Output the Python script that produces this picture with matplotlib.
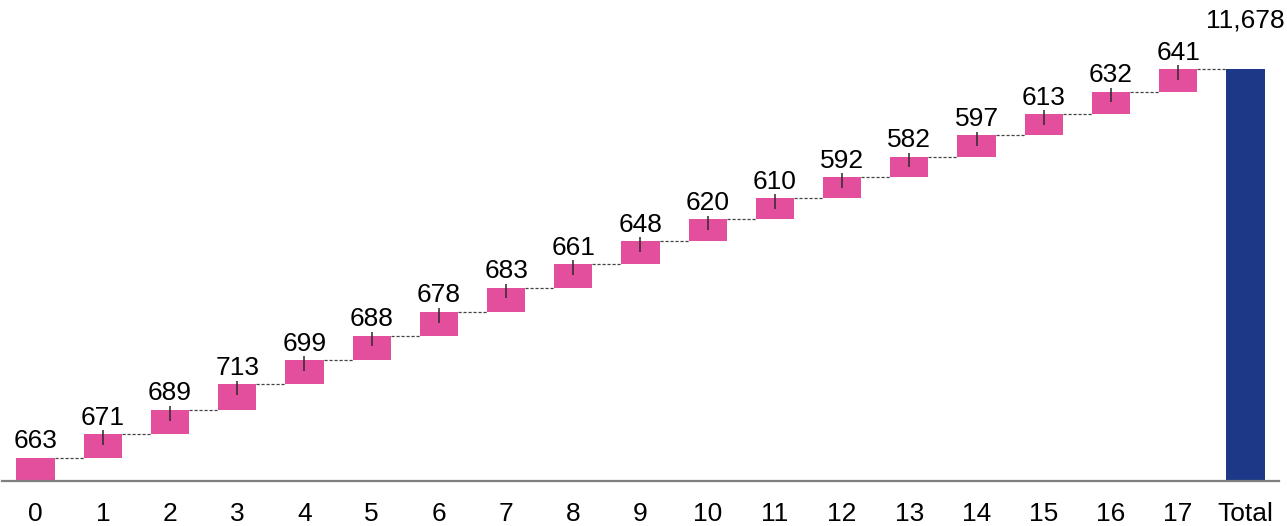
import matplotlib
matplotlib.use("Agg")
from matplotlib import pyplot as plt
import numpy as np

plt.rcParams['font.family'] = ['Liberation Sans', 'DejaVu Sans']

# yearly increments and the running total
categories = [str(i) for i in range(18)] + ["Total"]
increments = [663, 671, 689, 713, 699, 688, 678, 683, 661,
              648, 620, 610, 592, 582, 597, 613, 632, 641]
total = 11678
labels = [str(v) for v in increments] + ["11,678"]

pink = "#E34F9D"
navy = "#1C3886"

fig = plt.figure(figsize=(12.87, 5.26), dpi=100)
ax = fig.add_axes([2 / 1287, 45 / 526, 1277 / 1287, 481 / 526])

x = np.arange(len(categories))
ends = np.cumsum(increments)
starts = ends - np.array(increments)
width = 0.57

ax.bar(x[:-1], increments, bottom=starts, width=width, color=pink, zorder=2)
ax.bar(x[-1], total, width=width, color=navy, zorder=2)

# uncertainty marks near the top of each step (none on the first one)
ax.errorbar(x[1:-1], ends[1:] - 100, yerr=210, fmt='none',
            ecolor="#2a2a2a", elinewidth=1.1, capsize=0, zorder=3)

# dashed connectors between consecutive steps
tops = list(ends)
for i in range(len(categories) - 1):
    ax.plot([x[i] + width / 2, x[i + 1] - width / 2], [tops[i], tops[i]],
            ls=(0, (2.5, 1.5)), lw=0.9, color="#444444", zorder=1)

for i, lab in enumerate(labels):
    if i < len(increments):
        y, off = ends[i], 3
    else:
        y, off = total, 26
    ax.annotate(lab, (x[i], y), xytext=(0, off), textcoords="offset points",
                ha="center", va="bottom", fontsize=19)

ax.set_xlim(-0.5, len(categories) - 0.5)
ax.set_ylim(0, total * 481 / 412)
ax.set_xticks(x)
ax.set_xticklabels(categories, fontsize=19)
ax.tick_params(axis='x', length=0, pad=15)
ax.set_yticks([])
for s in ("top", "right", "left"):
    ax.spines[s].set_visible(False)
ax.spines["bottom"].set_color("#7f7f7f")
ax.spines["bottom"].set_linewidth(1.6)

fig.savefig("out.png", dpi=100)
